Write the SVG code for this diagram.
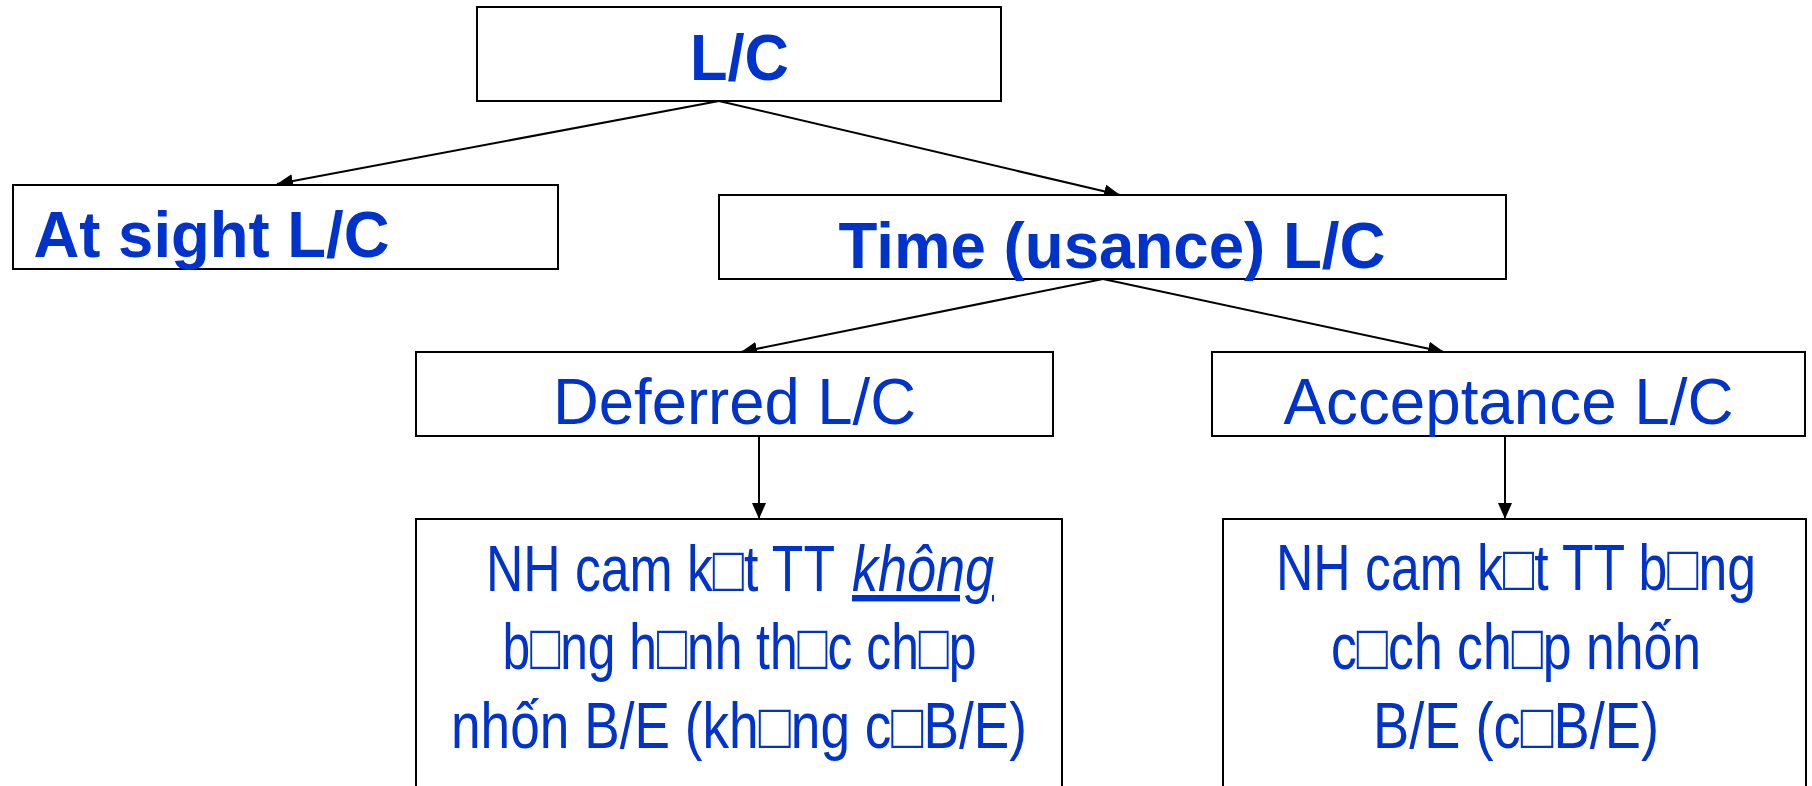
<svg xmlns="http://www.w3.org/2000/svg" width="1812" height="786" viewBox="0 0 1812 786">
  <defs>
    <marker id="arrow" markerUnits="userSpaceOnUse" markerWidth="16" markerHeight="14" refX="16" refY="7" orient="auto">
      <path d="M0,0 L16,7 L0,14 Z" fill="#000"/>
    </marker>
    <style>
      .box { fill: #fff; stroke: #000; stroke-width: 2; }
      .lbl { font-family: "Liberation Sans", Arial, sans-serif; fill: #0033cc; text-anchor: middle; font-size: 64px; }
      .start { text-anchor: start; }
      .b { font-weight: bold; }
      .em { font-style: italic; text-decoration: underline; }
      .edge { stroke: #000; stroke-width: 2; fill: none; marker-end: url(#arrow); }
    </style>
  </defs>

  <rect width="1812" height="786" fill="#fff"/>

  <!-- connectors -->
  <g id="connectors">
    <line class="edge" x1="719" y1="101" x2="277" y2="184"/>
    <line class="edge" x1="719" y1="101" x2="1120" y2="195"/>
    <line class="edge" x1="1103" y1="279" x2="741" y2="352"/>
    <line class="edge" x1="1103" y1="279" x2="1444" y2="352"/>
    <line class="edge" x1="759" y1="436" x2="759" y2="519"/>
    <line class="edge" x1="1505" y1="436" x2="1505" y2="519"/>
  </g>

  <!-- root -->
  <g id="node-lc">
    <rect class="box" x="477" y="7" width="524" height="94"/>
    <text class="lbl b" x="739.5" y="80" font-size="66" textLength="99" lengthAdjust="spacingAndGlyphs">L/C</text>
  </g>

  <g id="node-atsight">
    <rect class="box" x="13" y="185" width="545" height="84"/>
    <text class="lbl b start" x="33.5" y="257" textLength="356" lengthAdjust="spacingAndGlyphs">At sight L/C</text>
  </g>

  <g id="node-time">
    <rect class="box" x="719" y="195" width="787" height="84"/>
    <text class="lbl b" x="1112" y="268" textLength="547" lengthAdjust="spacingAndGlyphs">Time (usance) L/C</text>
  </g>

  <g id="node-deferred">
    <rect class="box" x="416" y="352" width="637" height="84"/>
    <text class="lbl" x="734.5" y="424" textLength="363" lengthAdjust="spacingAndGlyphs">Deferred L/C</text>
  </g>

  <g id="node-acceptance">
    <rect class="box" x="1212" y="352" width="593" height="84"/>
    <text class="lbl" x="1508.5" y="424" textLength="450" lengthAdjust="spacingAndGlyphs">Acceptance L/C</text>
  </g>

  <g id="node-deferred-desc">
    <rect class="box" x="416" y="519" width="646" height="280"/>
    <text class="lbl start" x="486" y="591" textLength="349" lengthAdjust="spacingAndGlyphs">NH cam k□t TT</text>
    <text class="lbl start em" x="852" y="591" textLength="142" lengthAdjust="spacingAndGlyphs">không</text>
    <text class="lbl" x="739.5" y="669" textLength="474" lengthAdjust="spacingAndGlyphs">b□ng h□nh th□c ch□p</text>
    <text class="lbl" x="739" y="748" textLength="576" lengthAdjust="spacingAndGlyphs">nhốn B/E (kh□ng c□B/E)</text>
  </g>

  <g id="node-acceptance-desc">
    <rect class="box" x="1223" y="519" width="583" height="280"/>
    <text class="lbl" x="1516" y="590" textLength="480" lengthAdjust="spacingAndGlyphs">NH cam k□t TT b□ng</text>
    <text class="lbl" x="1516" y="669" textLength="370" lengthAdjust="spacingAndGlyphs">c□ch ch□p nhốn</text>
    <text class="lbl" x="1516" y="748" textLength="286" lengthAdjust="spacingAndGlyphs">B/E (c□B/E)</text>
  </g>
</svg>
